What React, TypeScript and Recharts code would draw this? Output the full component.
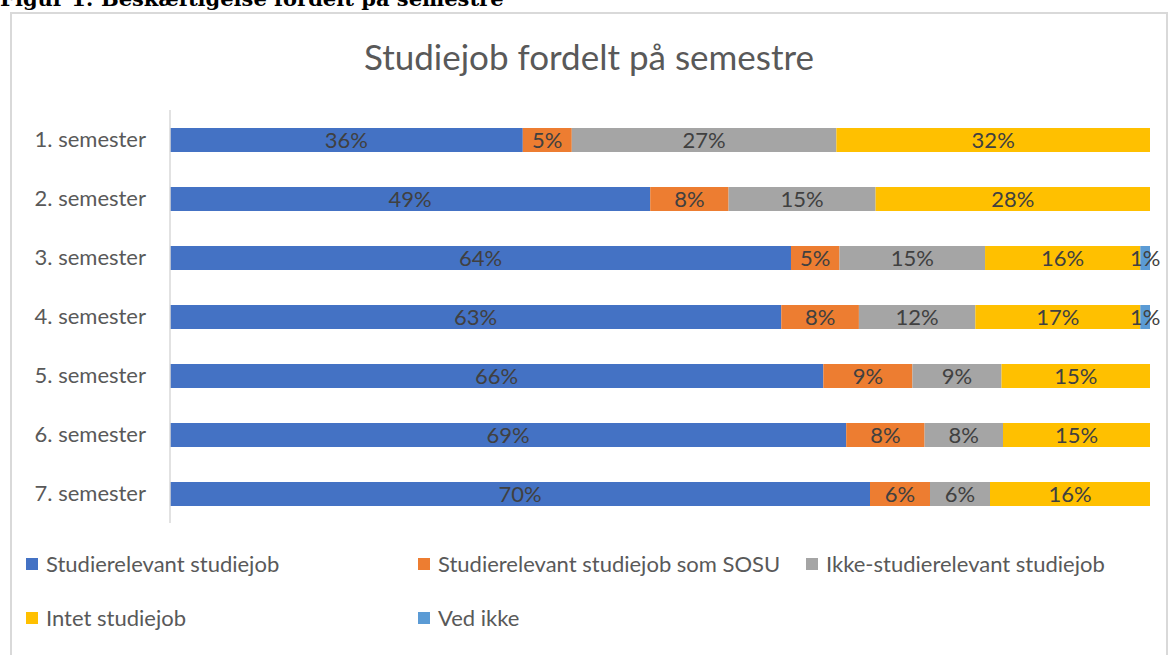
import React from 'react';
import { BarChart, Bar, XAxis, YAxis, LabelList, Legend } from 'recharts';

const semesters = ['1. semester', '2. semester', '3. semester', '4. semester', '5. semester', '6. semester', '7. semester'];
const studierelevant = [36, 49, 64, 63, 66, 69, 70];
const sosu = [5, 8, 5, 8, 9, 8, 6];
const ikkeRelevant = [27, 15, 15, 12, 9, 8, 6];
const intet = [32, 28, 16, 17, 15, 15, 16];
const vedIkke = [0, 0, 1, 1, 0, 0, 0];

const seriesNames = [
  'Studierelevant studiejob',
  'Studierelevant studiejob som SOSU',
  'Ikke-studierelevant studiejob',
  'Intet studiejob',
  'Ved ikke',
];
const seriesKeys = ['rel', 'sosu', 'ikke', 'intet', 'ved'];
const seriesColors = ['#4472C4', '#ED7D31', '#A5A5A5', '#FFC000', '#5B9BD5'];

const data = semesters.map((s, i) => ({
  name: s,
  rel: studierelevant[i],
  sosu: sosu[i],
  ikke: ikkeRelevant[i],
  intet: intet[i],
  ved: vedIkke[i],
}));

const FONT = 'Lato, "Open Sans", sans-serif';
const TEXT = '#595959';

// legend columns like the Excel original: 3 per row
const legendCols = [16, 408, 796];

// height kept at 1 so the legend does not eat the plot area
const renderLegend = () => (
  <div style={{ position: 'relative', width: 1158, height: 1, fontFamily: FONT }}>
    {seriesNames.map((n, i) => {
      const col = i % 3;
      const row = Math.floor(i / 3);
      return (
        <div
          key={n}
          style={{
            position: 'absolute',
            left: legendCols[col],
            top: row * 54,
            display: 'flex',
            alignItems: 'center',
            fontSize: 22,
            lineHeight: '24px',
            color: TEXT,
            whiteSpace: 'nowrap',
          }}
        >
          <span style={{ width: 12, height: 12, background: seriesColors[i], marginRight: 8, display: 'inline-block' }} />
          {n}
        </div>
      );
    })}
  </div>
);

const App: React.FC = () => {
  return (
    <div style={{ position: 'absolute', left: 0, top: 0, width: 1170, height: 655, overflow: 'hidden', background: '#fff' }}>
      {/* figure caption, cut off at the top like in the source */}
      <div
        style={{
          position: 'absolute',
          left: 0,
          top: -14,
          fontFamily: '"DejaVu Serif", serif',
          fontWeight: 'bold',
          fontSize: 21,
          color: '#000',
          whiteSpace: 'nowrap',
        }}
      >
        Figur 1: Beskæftigelse fordelt på semestre
      </div>
      <div
        style={{
          position: 'absolute',
          left: 10,
          top: 12,
          width: 1158,
          height: 660,
          borderLeft: '2px solid #d9d9d9',
          borderTop: '2px solid #d9d9d9',
          borderRight: '2px solid #d9d9d9',
          boxSizing: 'border-box',
        }}
      />
      <div
        style={{
          position: 'absolute',
          left: 10,
          top: 35,
          width: 1158,
          textAlign: 'center',
          fontFamily: FONT,
          fontSize: 35,
          color: TEXT,
        }}
      >
        Studiejob fordelt på semestre
      </div>
      <div style={{ position: 'absolute', left: 10, top: 12 }}>
        <BarChart
          width={1158}
          height={643}
          data={data}
          layout="vertical"
          stackOffset="expand"
          barSize={24}
          margin={{ top: 98, right: 18, bottom: 131, left: 0 }}
        >
          <XAxis type="number" hide domain={[0, 1]} />
          <YAxis
            type="category"
            dataKey="name"
            width={160}
            axisLine={{ stroke: '#d9d9d9', strokeWidth: 1.5 }}
            tickLine={false}
            tickSize={0}
            tickMargin={24}
            tick={{ fontFamily: FONT, fontSize: 22, fill: TEXT }}
          />
          <Legend
            verticalAlign="bottom"
            align="left"
            content={renderLegend}
            wrapperStyle={{ left: 0, top: 540, width: 1158, height: 1 }}
          />
          {seriesKeys.map((k, i) => (
            <Bar key={k} dataKey={k} name={seriesNames[i]} stackId="s" fill={seriesColors[i]} isAnimationActive={false}>
              <LabelList
                dataKey={k}
                position="center"
                formatter={(v: any) => (v ? `${v}%` : '')}
                style={{ fontFamily: FONT, fontSize: 22, fill: '#404040' }}
              />
            </Bar>
          ))}
        </BarChart>
      </div>
    </div>
  );
};

export default App;
